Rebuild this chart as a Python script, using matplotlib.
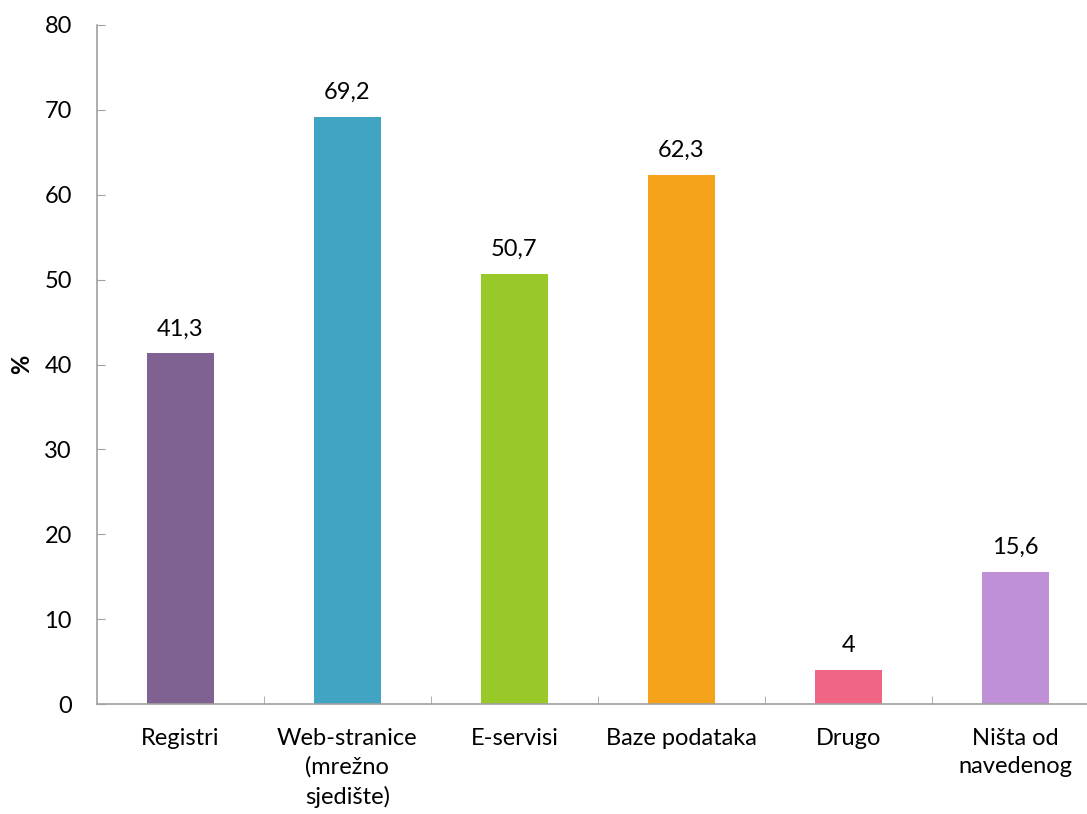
import matplotlib.pyplot as plt
import numpy as np

plt.rcParams['font.family'] = ['Lato', 'DejaVu Sans']

categories = ["Registri", "Web-stranice\n(mrežno\nsjedište)", "E-servisi",
              "Baze podataka", "Drugo", "Ništa od\nnavedenog"]
values = [41.3, 69.2, 50.7, 62.3, 4, 15.6]
labels = ["41,3", "69,2", "50,7", "62,3", "4", "15,6"]
colors = ["#7F6291", "#41A4C3", "#99C928", "#F5A31B", "#F06486", "#BF8FD8"]

fig = plt.figure(figsize=(10.87, 8.14), dpi=100)
ax = fig.add_axes([0.0892, 0.1351, 0.9215, 0.8342])

x = np.arange(len(categories))
ax.bar(x, values, width=0.4, color=colors)
for xi, v, t in zip(x, values, labels):
    ax.annotate(t, (xi, v), xytext=(0, 10), textcoords="offset points",
                ha="center", va="bottom", fontsize=17)

ax.set_xlim(-0.5, len(categories) - 0.5)
ax.set_ylim(0, 80)
ax.set_yticks(range(0, 81, 10))
ax.set_xticks(x)
ax.set_xticklabels(categories, fontsize=17, linespacing=1.45)
ax.set_xticks(np.arange(0.5, len(categories) - 0.5, 1), minor=True)
ax.tick_params(axis="x", which="major", length=0, pad=17)
ax.tick_params(axis="x", which="minor", direction="in", length=6, color="#A0A0A0")
ax.tick_params(axis="y", direction="in", length=6, color="#A0A0A0", labelsize=17, pad=18)

for s in ["top", "right"]:
    ax.spines[s].set_visible(False)
for s in ["left", "bottom"]:
    ax.spines[s].set_color("#A0A0A0")
    ax.spines[s].set_linewidth(1.2)

ax.set_ylabel("%", fontsize=17, fontweight="bold", labelpad=8)

fig.savefig("out.png", dpi=100)
